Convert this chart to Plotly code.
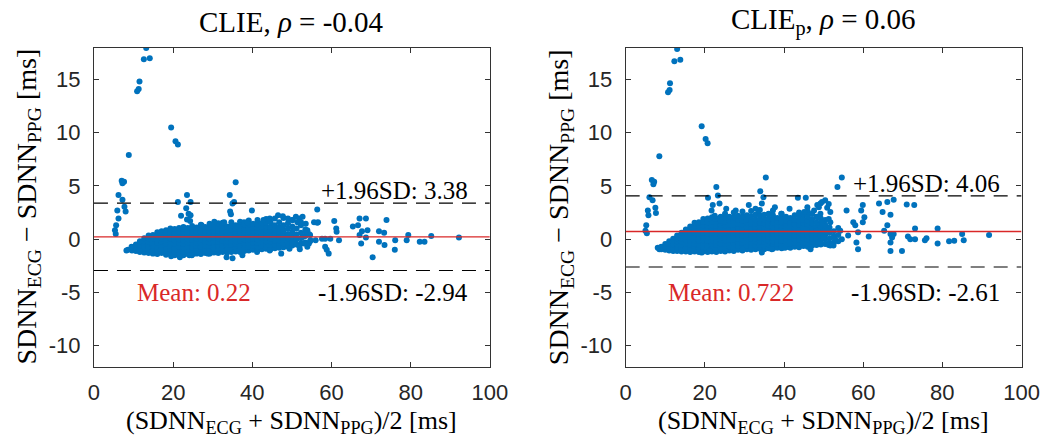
import plotly.graph_objects as go

# ---------------- data ----------------
# Panel titles / statistics
left_title = "CLIE, <i>ρ</i> = -0.04"
right_title = "CLIE<sub>p</sub>, <i>ρ</i> = 0.06"
left_stats = {"upper": 3.38, "mean": 0.22, "lower": -2.94}
right_stats = {"upper": 4.06, "mean": 0.722, "lower": -2.61}

x_ticks = [0, 20, 40, 60, 80, 100]
y_ticks = [-10, -5, 0, 5, 10, 15]
y_ticktext = ["-10", "-5", "0", "5", "10", "15"]

# Dense cloud, left panel: (mean SDNN, list of differences) per column
left_core_cols = [
    (8.6, [-1.0]),
    (9.6, [-1.05, -0.75]),
    (10.6, [-1.1, -0.8, -0.5]),
    (11.6, [-1.2, -0.85, -0.5, -0.2]),
    (12.7, [-1.25, -0.9, -0.55, -0.2, 0.1]),
    (13.8, [-1.3, -0.95, -0.6, -0.25, 0.1, 0.35]),
    (14.9, [-1.35, -1.0, -0.65, -0.3, 0.05, 0.4]),
    (16.0, [-1.4, -1.05, -0.7, -0.35, 0.0, 0.35, 0.65]),
    (17.1, [-1.3, -0.95, -0.6, -0.25, 0.1, 0.45, 0.75]),
    (18.2, [-1.45, -1.1, -0.75, -0.4, -0.05, 0.3, 0.6, 0.85]),
    (19.3, [-1.35, -1.0, -0.65, -0.3, 0.05, 0.4, 0.75, 1.0]),
    (20.4, [-1.5, -1.15, -0.8, -0.45, -0.1, 0.25, 0.6, 0.95]),
    (21.5, [-1.4, -1.05, -0.7, -0.35, 0.0, 0.35, 0.7, 1.05]),
    (22.6, [-1.5, -1.15, -0.8, -0.45, -0.1, 0.25, 0.6, 0.95, 1.15]),
    (23.7, [-1.4, -1.05, -0.7, -0.35, 0.0, 0.35, 0.7, 1.05]),
    (24.8, [-1.45, -1.1, -0.75, -0.4, -0.05, 0.3, 0.65, 1.0, 1.25]),
    (25.9, [-1.35, -1.0, -0.65, -0.3, 0.05, 0.4, 0.75, 1.1]),
    (27.0, [-1.4, -1.05, -0.7, -0.35, 0.0, 0.35, 0.7, 1.05, 1.35]),
    (28.1, [-1.3, -0.95, -0.6, -0.25, 0.1, 0.45, 0.8, 1.15]),
    (29.2, [-1.35, -1.0, -0.65, -0.3, 0.05, 0.4, 0.75, 1.1, 1.45]),
    (30.3, [-1.25, -0.9, -0.55, -0.2, 0.15, 0.5, 0.85, 1.2]),
    (31.4, [-1.3, -0.95, -0.6, -0.25, 0.1, 0.45, 0.8, 1.15, 1.5]),
    (32.5, [-1.2, -0.85, -0.5, -0.15, 0.2, 0.55, 0.9, 1.25, 1.55]),
    (33.6, [-1.25, -0.9, -0.55, -0.2, 0.15, 0.5, 0.85, 1.2]),
    (34.7, [-1.2, -0.85, -0.5, -0.15, 0.2, 0.55, 0.9, 1.25, 1.6]),
    (35.8, [-1.15, -0.8, -0.45, -0.1, 0.25, 0.6, 0.95, 1.3]),
    (36.9, [-1.2, -0.85, -0.5, -0.15, 0.2, 0.55, 0.9, 1.25, 1.65]),
    (38.0, [-1.1, -0.75, -0.4, -0.05, 0.3, 0.65, 1.0, 1.35]),
    (39.1, [-1.05, -0.7, -0.35, 0.0, 0.35, 0.7, 1.05, 1.4, 1.75]),
    (40.2, [-1.0, -0.65, -0.3, 0.05, 0.4, 0.75, 1.1, 1.45]),
    (41.3, [-1.05, -0.7, -0.35, 0.0, 0.35, 0.7, 1.05, 1.4, 1.8]),
    (42.4, [-0.95, -0.6, -0.25, 0.1, 0.45, 0.8, 1.15, 1.5]),
    (43.5, [-0.9, -0.55, -0.2, 0.15, 0.5, 0.85, 1.2, 1.55, 1.9]),
    (44.6, [-0.95, -0.6, -0.25, 0.1, 0.45, 0.8, 1.15, 1.6]),
    (45.7, [-0.85, -0.5, -0.15, 0.2, 0.55, 0.9, 1.3, 1.95]),
    (46.8, [-0.8, -0.45, -0.1, 0.3, 0.7, 1.1, 1.6]),
    (47.9, [-0.75, -0.4, 0.0, 0.4, 0.8, 1.3, 2.0]),
    (49.0, [-0.7, -0.3, 0.1, 0.5, 1.0, 1.5]),
    (50.1, [-0.6, -0.2, 0.25, 0.7, 1.2, 1.8]),
    (51.2, [-0.5, 0.0, 0.45, 1.0]),
    (52.3, [-0.4, 0.1, 0.6, 1.3]),
    (53.4, [-0.3, 0.3, 0.9]),
    (54.6, [-0.2, 0.4]),
]

# Individual / sparse points, left panel: (mean, difference)
left_sparse_pts = [
    (13.2, 17.95), (12.6, 16.9), (14.1, 17.0), (11.5, 14.8), (11.3, 14.1), (10.9, 13.9),
    (19.5, 10.5), (20.6, 9.2), (21.2, 8.9), (8.8, 7.9),
    (7.0, 5.5), (7.6, 5.4), (7.2, 5.25), (6.2, 4.15), (7.2, 3.7), (5.9, 2.7), (7.7, 3.05),
    (8.0, 2.6), (6.2, 1.95), (5.6, 1.3), (5.3, 0.85), (5.5, 0.5),
    (8.2, -1.05), (9.5, -0.7), (11.5, -1.1),
    (21.2, 3.5), (23.5, 4.15), (24.4, 3.5), (23.3, 2.9), (23.9, 2.4), (22.0, 2.2), (24.4, 2.25),
    (23.5, 1.85), (24.3, 1.7),
    (35.8, 5.35), (34.3, 4.15), (35.0, 3.35), (35.4, 3.5), (34.4, 2.6), (34.6, 2.35),
    (39.9, 2.7), (37.9, 1.6), (38.7, 1.6),
    (33.5, -1.7), (35.0, -1.8), (37.5, -1.5), (19.5, -1.6), (21.7, -1.7), (24.1, -1.5),
    (24.7, -1.5), (28.8, -1.35), (41.2, -1.2), (44.4, -1.05), (47.3, -1.35), (49.4, -0.9),
    (51.9, -0.7), (52.0, -0.95), (54.3, -0.4), (56.0, -0.1), (57.6, 0.05),
    (56.4, 2.8), (55.6, 1.6), (56.6, 1.6), (53.9, 0.85), (54.3, 0.5),
    (46.5, 2.25), (49.0, 1.95), (51.0, 2.1), (51.9, 1.95), (30.4, 1.65), (27.2, 1.3),
    (32.9, 1.6), (42.8, 1.8), (44.4, 1.95), (47.7, 2.15), (50.2, 1.8), (51.4, 1.6), (52.7, 2.1),
    (52.3, 1.6), (53.5, 1.45), (56.4, 1.55), (60.7, 1.7), (67.1, 1.95), (68.7, 1.95), (73.9, 1.8),
    (65.4, 1.2), (66.7, 1.3), (67.7, 0.75), (69.1, 0.85), (72.0, 0.75), (73.3, 0.6),
    (61.2, 1.0), (61.3, 0.7), (53.5, 0.7), (52.7, 0.2), (54.7, -0.1), (53.1, -0.4), (53.9, -0.7),
    (58.4, 0.05), (59.7, 0.05), (61.9, -0.1), (67.1, 0.4), (68.7, 0.15), (72.0, -0.25),
    (73.4, -0.55), (76.1, -0.1), (79.0, -0.1), (79.4, 0.4), (82.3, -0.25), (83.5, -0.25),
    (85.2, 0.3), (92.2, 0.15),
    (58.4, -0.7), (58.8, -1.0), (59.3, -1.35), (67.5, -0.4), (70.4, -1.7), (76.0, -1.0),
]

# Dense cloud, right panel
right_core_cols = [
    (9.0, [-0.95, -0.7]),
    (10.0, [-1.0, -0.7, -0.45]),
    (11.0, [-1.05, -0.75, -0.45, -0.2]),
    (12.0, [-1.1, -0.8, -0.5, -0.2, 0.05]),
    (13.0, [-1.1, -0.8, -0.5, -0.2, 0.1, 0.35]),
    (14.1, [-1.15, -0.85, -0.55, -0.25, 0.05, 0.35, 0.6]),
    (15.2, [-1.15, -0.8, -0.45, -0.1, 0.25, 0.6, 0.9]),
    (16.3, [-1.2, -0.85, -0.5, -0.15, 0.2, 0.55, 0.9, 1.2]),
    (17.4, [-1.15, -0.8, -0.45, -0.1, 0.25, 0.6, 0.95, 1.3, 1.55]),
    (18.5, [-1.2, -0.85, -0.5, -0.15, 0.2, 0.55, 0.9, 1.25, 1.6]),
    (19.6, [-1.15, -0.8, -0.45, -0.1, 0.25, 0.6, 0.95, 1.3, 1.65, 1.9]),
    (20.7, [-1.2, -0.85, -0.5, -0.15, 0.2, 0.55, 0.9, 1.25, 1.6, 1.95]),
    (21.8, [-1.15, -0.8, -0.45, -0.1, 0.25, 0.6, 0.95, 1.3, 1.65, 2.05]),
    (22.9, [-1.2, -0.85, -0.5, -0.15, 0.2, 0.55, 0.9, 1.25, 1.6, 1.95]),
    (24.0, [-1.1, -0.75, -0.4, -0.05, 0.3, 0.65, 1.0, 1.35, 1.7, 2.1]),
    (25.1, [-1.15, -0.8, -0.45, -0.1, 0.25, 0.6, 0.95, 1.3, 1.65, 2.0, 2.4]),
    (26.2, [-1.05, -0.7, -0.35, 0.0, 0.35, 0.7, 1.05, 1.4, 1.75, 2.1]),
    (27.3, [-1.1, -0.75, -0.4, -0.05, 0.3, 0.65, 1.0, 1.35, 1.7, 2.05, 2.5]),
    (28.4, [-1.0, -0.65, -0.3, 0.05, 0.4, 0.75, 1.1, 1.45, 1.8, 2.2]),
    (29.5, [-1.05, -0.7, -0.35, 0.0, 0.35, 0.7, 1.05, 1.4, 1.75, 2.1, 2.6]),
    (30.6, [-0.95, -0.6, -0.25, 0.1, 0.45, 0.8, 1.15, 1.5, 1.85, 2.25]),
    (31.7, [-1.0, -0.65, -0.3, 0.05, 0.4, 0.75, 1.1, 1.45, 1.8, 2.15, 2.65]),
    (32.8, [-0.95, -0.6, -0.25, 0.1, 0.45, 0.8, 1.15, 1.5, 1.85, 2.3]),
    (33.9, [-0.9, -0.55, -0.2, 0.15, 0.5, 0.85, 1.2, 1.55, 1.9, 2.25, 2.75]),
    (35.0, [-0.95, -0.6, -0.25, 0.1, 0.45, 0.8, 1.15, 1.5, 1.85, 2.3]),
    (36.1, [-0.85, -0.5, -0.15, 0.2, 0.55, 0.9, 1.25, 1.6, 1.95, 2.4]),
    (37.2, [-0.9, -0.55, -0.2, 0.15, 0.5, 0.85, 1.2, 1.55, 1.9, 2.25, 2.7]),
    (38.3, [-0.8, -0.45, -0.1, 0.25, 0.6, 0.95, 1.3, 1.65, 2.0]),
    (39.4, [-0.85, -0.5, -0.15, 0.2, 0.55, 0.9, 1.25, 1.6, 1.95, 2.4]),
    (40.5, [-0.75, -0.4, -0.05, 0.3, 0.65, 1.0, 1.35, 1.7, 2.1]),
    (41.6, [-0.8, -0.45, -0.1, 0.25, 0.6, 0.95, 1.3, 1.65, 2.0]),
    (42.7, [-0.7, -0.35, 0.0, 0.35, 0.7, 1.05, 1.4, 1.8, 2.25]),
    (43.8, [-0.75, -0.4, -0.05, 0.3, 0.65, 1.0, 1.35, 1.7, 2.1, 2.5]),
    (44.9, [-0.65, -0.3, 0.05, 0.4, 0.75, 1.1, 1.45, 1.85, 2.3]),
    (46.0, [-0.7, -0.35, 0.0, 0.35, 0.7, 1.05, 1.4, 1.75, 2.15, 2.6]),
    (47.1, [-0.6, -0.25, 0.1, 0.45, 0.8, 1.15, 1.5, 1.9, 2.4]),
    (48.2, [-0.55, -0.2, 0.15, 0.5, 0.85, 1.2, 1.6, 2.1]),
    (49.3, [-0.5, -0.1, 0.3, 0.7, 1.1, 1.5, 1.95]),
    (50.4, [-0.45, 0.0, 0.45, 0.9, 1.35, 1.8]),
    (51.5, [-0.35, 0.1, 0.6, 1.1]),
    (52.6, [-0.3, 0.25, 0.75]),
    (53.7, [-0.2, 0.4]),
]

right_sparse_pts = [
    (13.0, 17.85), (12.3, 16.7), (13.8, 16.85), (11.2, 14.65), (11.1, 14.0), (10.7, 13.8),
    (19.2, 10.6), (20.2, 9.4), (20.7, 9.0), (8.5, 7.8),
    (6.6, 5.55), (7.2, 5.4), (7.0, 5.15), (6.0, 3.95), (6.8, 3.65), (5.6, 2.7), (7.5, 2.95),
    (5.75, 2.25), (7.65, 2.45), (5.2, 1.3), (5.0, 0.8), (5.35, 0.55),
    (35.4, 5.8), (54.6, 5.8), (22.9, 4.9), (34.0, 4.5), (53.5, 4.9),
    (20.8, 3.9), (23.3, 4.1), (23.7, 3.35), (22.0, 3.2), (21.7, 2.7), (22.5, 2.2),
    (34.8, 3.95), (34.4, 3.35), (33.6, 2.7), (43.5, 3.9), (45.5, 3.9),
    (50.4, 3.65), (49.2, 3.35), (48.4, 3.2),
    (8.5, -0.95), (8.1, -0.8),
    (19.2, -1.25), (21.2, -1.1), (34.4, -1.25), (36.9, -0.95), (46.7, -0.95), (51.7, -0.6),
    (52.5, -0.6), (40.2, -0.8), (29.5, -1.0), (17.1, -1.1),
    (25.4, 2.85), (27.8, 2.7), (31.1, 3.2), (32.8, 2.85), (37.7, 3.0), (39.3, 2.4), (41.4, 2.85),
    (45.9, 3.0), (47.6, 2.7), (49.2, 2.4), (50.9, 2.95), (45.1, 2.55),
    (49.6, 3.5), (51.3, 3.3), (48.8, 3.0), (51.7, 2.55), (48.4, 2.05), (51.3, 1.9), (49.6, 1.6),
    (51.7, 1.6), (50.9, 0.8), (48.4, 0.8), (49.2, 0.35), (50.0, 0.2), (48.7, -0.3), (51.3, -0.55),
    (52.1, -0.55), (52.9, 0.0), (53.7, 1.05), (54.2, 0.8), (54.6, 0.0),
    (55.8, 2.7), (59.9, 3.2), (59.5, 2.7), (57.5, 1.6), (58.0, 1.3), (60.3, 2.05), (59.9, 1.6),
    (58.7, 0.65), (56.2, 0.35), (58.3, -0.3), (58.7, -0.95), (61.4, 0.25),
    (64.0, 3.35), (66.1, 3.5), (67.7, 3.7), (64.9, 2.55), (66.9, 2.3), (71.0, 3.25), (72.9, 3.2),
    (65.3, 0.8), (66.1, 1.3), (66.9, 0.5), (67.3, 0.17), (67.7, 0.5), (66.9, -0.3), (66.9, -1.1),
    (69.8, -1.1), (71.3, 0.25), (71.9, 0.0), (73.1, 1.0), (73.1, 0.0), (75.6, -0.1), (76.0, 0.1),
    (78.8, 1.0), (78.8, -0.4), (81.7, -0.2), (83.0, -0.15), (85.0, 0.5), (85.4, -0.1), (91.8, 0.4),
]

# ---------------- styling ----------------
W, H = 1062, 439
BLUE = "rgb(0,114,189)"
RED = "rgb(217,40,40)"
AXC = "#333333"
SERIF = "Liberation Serif"
SANS = "Liberation Sans"


def expand(cols, sparse):
    xs, ys = [], []
    for xv, yl in cols:
        for yv in yl:
            xs.append(xv)
            ys.append(yv)
    for xv, yv in sparse:
        xs.append(xv)
        ys.append(yv)
    return xs, ys


fig = go.Figure()

panels = [
    dict(xa="x", ya="y", cols=left_core_cols, sparse=left_sparse_pts, stats=left_stats,
         dom=[90 / W, 495 / W], title=left_title, ytitle_x=22),
    dict(xa="x2", ya="y2", cols=right_core_cols, sparse=right_sparse_pts, stats=right_stats,
         dom=[634 / W, 1039 / W], title=right_title, ytitle_x=567),
]

ydom = [(H - 367) / H, (H - 47.5) / H]
annotations = []
shapes = []

for i, p in enumerate(panels):
    xs, ys = expand(p["cols"], p["sparse"])
    fig.add_trace(go.Scatter(
        x=xs, y=ys, mode="markers",
        marker=dict(size=6, color=BLUE, line=dict(width=0)),
        xaxis=p["xa"], yaxis=p["ya"], showlegend=False, hoverinfo="skip",
    ))
    st = p["stats"]
    for val, col, dash, w in [(st["upper"], "black", "14px,9px", 1.2),
                              (st["lower"], "black", "14px,9px", 1.2),
                              (st["mean"], RED, "solid", 1.3)]:
        shapes.append(dict(type="line", xref=p["xa"], yref=p["ya"], x0=0, x1=100,
                           y0=val, y1=val, line=dict(color=col, width=w, dash=dash),
                           layer="above"))
    fnt = dict(family=SERIF, size=25, color="black")
    annotations += [
        dict(xref=p["xa"], yref=p["ya"], x=95, y=st["upper"], xanchor="right",
             yanchor="bottom", yshift=-3, showarrow=False,
             text=f"+1.96SD: {st['upper']:g}", font=fnt),
        dict(xref=p["xa"], yref=p["ya"], x=95, y=-5.0, xanchor="right",
             yanchor="middle", showarrow=False,
             text=f"-1.96SD: {st['lower']:g}", font=fnt),
        dict(xref=p["xa"], yref=p["ya"], x=10.3, y=-5.0, xanchor="left",
             yanchor="middle", showarrow=False,
             text=f"Mean: {st['mean']:g}", font=dict(family=SERIF, size=25, color=RED)),
        # panel title
        dict(xref="paper", yref="paper", x=(p["dom"][0] + p["dom"][1]) / 2, y=1 - 22 / H,
             xanchor="center", yanchor="middle", showarrow=False, text=p["title"],
             font=dict(family=SERIF, size=29, color="black")),
        # x-axis title
        dict(xref="paper", yref="paper", x=(p["dom"][0] + p["dom"][1]) / 2, y=0,
             xanchor="center", yanchor="bottom", borderpad=0, showarrow=False,
             text="(SDNN<sub>ECG</sub> + SDNN<sub>PPG</sub>)/2 [ms]",
             font=dict(family=SERIF, size=26, color="black")),
        # y-axis title
        dict(xref="paper", yref="paper", x=p["ytitle_x"] / W, y=1 - 207 / H,
             xanchor="center", yanchor="middle", textangle=-90, showarrow=False,
             text="SDNN<sub>ECG</sub> − SDNN<sub>PPG</sub> [ms]",
             font=dict(family=SERIF, size=28, color="black")),
    ]

common = dict(showgrid=False, zeroline=False, showline=True, linecolor=AXC, linewidth=1.2,
              mirror="ticks", ticks="inside", ticklen=5, tickwidth=1, tickcolor=AXC,
              tickfont=dict(family=SANS, size=22, color="#262626"))

layout_axes = {}
for i, p in enumerate(panels):
    sfx = "" if i == 0 else "2"
    layout_axes["xaxis" + sfx] = dict(common, domain=p["dom"], range=[0, 100],
                                      tickvals=x_ticks, anchor=p["ya"],
                                      ticklabelstandoff=5)
    layout_axes["yaxis" + sfx] = dict(common, domain=ydom, range=[-12, 18],
                                      tickvals=y_ticks, ticktext=y_ticktext,
                                      anchor=p["xa"], ticklabelstandoff=8)

fig.update_layout(
    width=W, height=H,
    margin=dict(l=0, r=0, t=0, b=0),
    paper_bgcolor="white", plot_bgcolor="white",
    shapes=shapes, annotations=annotations,
    **layout_axes,
)

fig.write_html("out.html")
